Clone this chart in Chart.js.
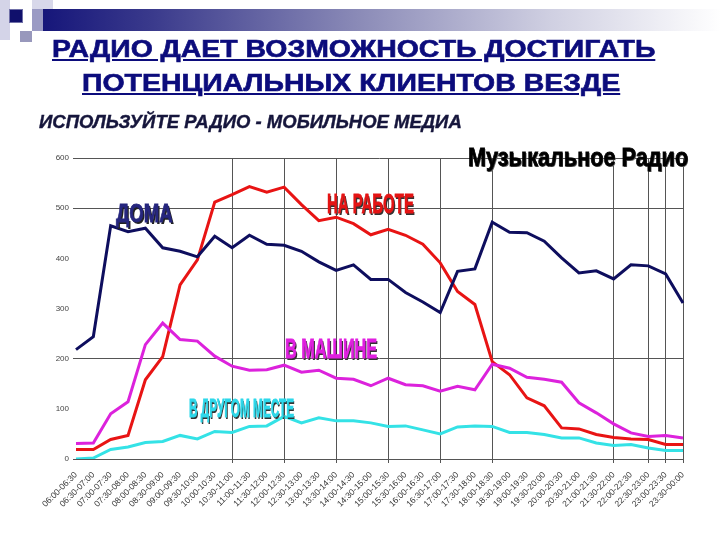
<!DOCTYPE html>
<html>
<head>
<meta charset="utf-8">
<script src="https://cdn.jsdelivr.net/npm/chart.js@4/dist/chart.umd.min.js"></script>
<style>
  html, body { margin: 0; padding: 0; background: #fff; }
  #page { position: relative; width: 720px; height: 540px; overflow: hidden; background: #fff; }
  #chartBox { position: absolute; left: 0; top: 0; width: 720px; height: 540px; }
  .deco { position: absolute; }
  .txt {
    position: absolute; white-space: nowrap; line-height: 1;
    font-family: "Liberation Sans", Arial, sans-serif; font-weight: bold;
    transform-origin: 0 0;
  }
  .title { color: #0c0c7c; text-decoration: underline; text-decoration-thickness: 2px; text-underline-offset: 2px; -webkit-text-stroke: 0.6px #0c0c7c; }
  .sub { color: #16163c; font-style: italic; -webkit-text-stroke: 0.4px #16163c; }
  .word { -webkit-text-stroke: 0.8px currentColor; }
</style>
</head>
<body>
<div id="page">
  <!-- header decoration -->
  <div class="deco" style="left:0;top:0;width:10px;height:40px;background:#d4d4e8"></div>
  <div class="deco" style="left:32px;top:0;width:21px;height:20px;background:#d8d8ea"></div>
  <div class="deco" style="left:32px;top:9px;width:688px;height:22px;background:linear-gradient(to right,#9a9ac4 0px,#9a9ac4 11px,#16167a 11px,#3a3a8c 120px,#8c8cb8 330px,#d0d0e2 520px,#ffffff 690px)"></div>
  <div class="deco" style="left:20px;top:31px;width:12px;height:11px;background:#9898bc"></div>
  <div class="deco" style="left:10px;top:10px;width:12px;height:12px;background:#10106c;box-shadow:0 0 0 1px #7070a8"></div>

  <div id="chartBox"><canvas id="radioChart"></canvas></div>
</div>

<script>
// --- chart data ---
const timeLabels = [
  '06:00-06:30', '06:30-07:00', '07:00-07:30', '07:30-08:00', '08:00-08:30', '08:30-09:00',
  '09:00-09:30', '09:30-10:00', '10:00-10:30', '10:30-11:00', '11:00-11:30', '11:30-12:00',
  '12:00-12:30', '12:30-13:00', '13:00-13:30', '13:30-14:00', '14:00-14:30', '14:30-15:00',
  '15:00-15:30', '15:30-16:00', '16:00-16:30', '16:30-17:00', '17:00-17:30', '17:30-18:00',
  '18:00-18:30', '18:30-19:00', '19:00-19:30', '19:30-20:00', '20:00-20:30', '20:30-21:00',
  '21:00-21:30', '21:30-22:00', '22:00-22:30', '22:30-23:00', '23:00-23:30', '23:30-00:00'
];
const atHome  = [218, 244, 465, 453, 460, 421, 414, 403, 444, 421, 446, 428, 426, 414, 393, 376, 387, 358, 358, 332, 313, 292, 374, 379, 472, 452, 451, 434, 401, 371, 375, 359, 387, 385, 369, 311];
const atWork  = [19, 19, 39, 47, 158, 204, 347, 397, 512, 527, 543, 532, 542, 507, 475, 482, 469, 447, 458, 446, 428, 391, 334, 308, 194, 168, 122, 106, 62, 60, 49, 43, 40, 39, 29, 29];
const inCar   = [31, 32, 90, 114, 228, 271, 238, 235, 205, 185, 177, 178, 187, 173, 177, 161, 159, 146, 161, 148, 146, 135, 145, 138, 189, 181, 163, 159, 153, 112, 92, 70, 52, 45, 47, 42];
const elsewhere = [0, 2, 19, 24, 33, 35, 47, 40, 55, 53, 65, 66, 85, 72, 82, 76, 76, 72, 65, 66, 58, 50, 64, 66, 65, 53, 53, 49, 42, 42, 32, 27, 29, 22, 17, 17];
const yTickValues = [0, 100, 200, 300, 400, 500, 600];
const yGridValues = [0, 200, 500, 600];
const xGridIndexes = [9, 12, 15, 18, 21, 24, 31, 33, 34, 35];

// --- text overlays ---
const overlays = [
  { text: 'РАДИО ДАЕТ ВОЗМОЖНОСТЬ ДОСТИГАТЬ', cls: 'title', x: 52, capTop: 41, capH: 17, w: 603 },
  { text: 'ПОТЕНЦИАЛЬНЫХ КЛИЕНТОВ ВЕЗДЕ', cls: 'title', x: 82, capTop: 75, capH: 17, w: 538 },
  { text: 'ИСПОЛЬЗУЙТЕ РАДИО - МОБИЛЬНОЕ МЕДИА', cls: 'sub', x: 39, capTop: 115, capH: 13, w: 423 },
  { text: 'Музыкальное Радио', cls: 'word', color: '#000', shadow: '1px 1px 0 #666', x: 468, capTop: 147, capH: 19, w: 220 },
  { text: 'ДОМА', cls: 'word', color: '#26267e', shadow: '2px 2px 0 #222', x: 116, capTop: 203, capH: 19, w: 57 },
  { text: 'НА РАБОТЕ', cls: 'word', color: '#e41414', shadow: '2px 2px 0 #333', x: 327, capTop: 194, capH: 20, w: 87 },
  { text: 'В МАШИНЕ', cls: 'word', color: '#e020e0', shadow: '2px 2px 0 #333', x: 285, capTop: 339, capH: 20, w: 92 },
  { text: 'В ДРУГОМ МЕСТЕ', cls: 'word', color: '#2ed8ea', shadow: '2px 2px 0 #333', x: 189, capTop: 398, capH: 19, w: 105 }
];

function placeOverlays() {
  const page = document.getElementById('page');
  overlays.forEach(o => {
    const el = document.createElement('div');
    el.className = 'txt' + (o.cls ? ' ' + o.cls : '');
    el.textContent = o.text;
    const fs = o.capH / 0.716;
    el.style.fontSize = fs + 'px';
    el.style.left = o.x + 'px';
    el.style.top = (o.capTop - 0.13 * fs) + 'px';
    if (o.color) el.style.color = o.color;
    if (o.shadow) el.style.textShadow = o.shadow;
    page.appendChild(el);
    const natural = el.offsetWidth;
    el.style.transform = 'scaleX(' + (o.w / natural) + ')';
  });
}

function initChart() {
  const ctx = document.getElementById('radioChart').getContext('2d');
  new Chart(ctx, {
    type: 'line',
    data: {
      labels: timeLabels,
      datasets: [
        { label: 'В другом месте', data: elsewhere, borderColor: '#34e2e6' },
        { label: 'В машине', data: inCar, borderColor: '#dc22dc' },
        { label: 'Дома', data: atHome, borderColor: '#0e0e5e' },
        { label: 'На работе', data: atWork, borderColor: '#e81414' }
      ]
    },
    options: {
      responsive: true,
      maintainAspectRatio: false,
      animation: false,
      layout: { padding: { left: 0, top: 158, right: 37, bottom: 0 } },
      elements: {
        point: { radius: 0 },
        line: { borderWidth: 3, tension: 0, fill: false }
      },
      plugins: { legend: { display: false }, tooltip: { enabled: false } },
      scales: {
        x: {
          type: 'category',
          offset: false,
          grid: {
            color: c => xGridIndexes.includes(c.index) ? '#555' : 'transparent',
            lineWidth: 1,
            tickLength: 4
          },
          border: { display: true, color: '#555' },
          ticks: {
            autoSkip: false,
            minRotation: 45,
            maxRotation: 45,
            padding: 7,
            color: '#333',
            font: { family: 'Liberation Sans', size: 8.5 }
          },
          afterFit: s => { s.height = 81; }
        },
        y: {
          min: 0,
          max: 600,
          afterBuildTicks: s => { s.ticks = yTickValues.map(v => ({ value: v })); },
          grid: {
            color: c => (c.tick && yGridValues.includes(c.tick.value)) ? '#555' : 'transparent',
            lineWidth: 1,
            tickLength: 3
          },
          border: { display: false },
          ticks: {
            padding: 4,
            color: '#444',
            font: { family: 'Liberation Sans', size: 8 }
          },
          afterFit: s => { s.width = 76; }
        }
      }
    }
  });
}

document.addEventListener('DOMContentLoaded', () => {
  initChart();
  placeOverlays();
});
</script>
</body>
</html>
